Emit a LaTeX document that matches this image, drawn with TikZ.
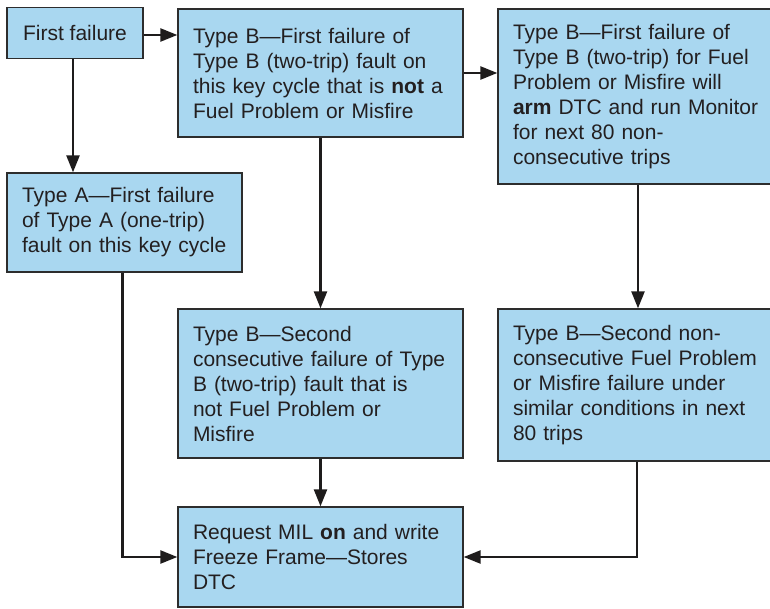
\documentclass[tikz,border=0pt]{standalone}
\usepackage{fontspec}
\setmainfont{Liberation Sans}
\usetikzlibrary{arrows.meta}
\definecolor{boxfill}{RGB}{169,215,240}
\definecolor{boxline}{RGB}{45,45,45}
\definecolor{txt}{RGB}{35,31,32}
\definecolor{conn}{RGB}{30,28,28}
\tikzset{
  box/.style={draw=boxline, fill=boxfill, line width=1.3pt, inner xsep=15pt, inner ysep=4pt,
    align=left, text=txt, font=\fontsize{21}{25}\selectfont},
  conn/.style={draw=conn, line width=2.4pt, -{Triangle[length=17pt,width=13pt]}}
}
\begin{document}
\begin{tikzpicture}[x=1pt,y=1pt]
\useasboundingbox (0,0) rectangle (770,-609);
\begin{scope}
\clip (0,0) rectangle (770,-609);
\node[box, minimum width=136pt, minimum height=51pt, align=center] (ff) at (75,-33) {First failure};
\node[box, minimum width=285pt, minimum height=128pt, text width=255pt] (b1) at (320.5,-73)
  {Type B---First failure of\\Type B (two-trip) fault on\\this key cycle that is \textbf{not} a\\Fuel Problem or Misfire};
\node[box, minimum width=295pt, minimum height=175pt, text width=265pt] (b2) at (645.5,-96.5)
  {Type B---First failure of\\Type B (two-trip) for Fuel\\Problem or Misfire will\\\textbf{arm} DTC and run Monitor\\for next 80 non-\\consecutive trips};
\node[box, minimum width=235pt, minimum height=99pt, text width=205pt] (a) at (124.5,-222.5)
  {Type A---First failure\\of Type A (one-trip)\\fault on this key cycle};
\node[box, minimum width=285pt, minimum height=149pt, text width=255pt] (b3) at (320.5,-383.5)
  {Type B---Second\\consecutive failure of Type\\B (two-trip) fault that is\\not Fuel Problem or\\Misfire};
\node[box, minimum width=295pt, minimum height=152pt, text width=265pt] (b4) at (645.5,-385)
  {Type B---Second non-\\consecutive Fuel Problem\\or Misfire failure under\\similar conditions in next\\80 trips};
\node[box, minimum width=285pt, minimum height=100pt, text width=255pt] (fin) at (320.5,-557)
  {Request MIL \textbf{on} and write\\Freeze Frame---Stores\\DTC};
\end{scope}
\coordinate (b2d) at (638,0);
\coordinate (b4d) at (637,0);
\draw[conn] ([yshift=-2pt]ff.east) -- ([yshift=-2pt]ff.east -| b1.west);
\draw[conn] ([xshift=-2pt]ff.south) -- ([xshift=-2pt]ff.south |- a.north);
\draw[conn] (b1.east) -- (b1.east -| b2.west);
\draw[conn] (b1.south) -- (b3.north);
\draw[conn] (b2d |- b2.south) -- (b2d |- b4.north);
\draw[conn] (b3.south) -- (fin.north);
\draw[conn] ([xshift=-2pt]a.south) |- (fin.west);
\draw[conn] (b4d |- b4.south) |- (fin.east);
\end{tikzpicture}
\end{document}
